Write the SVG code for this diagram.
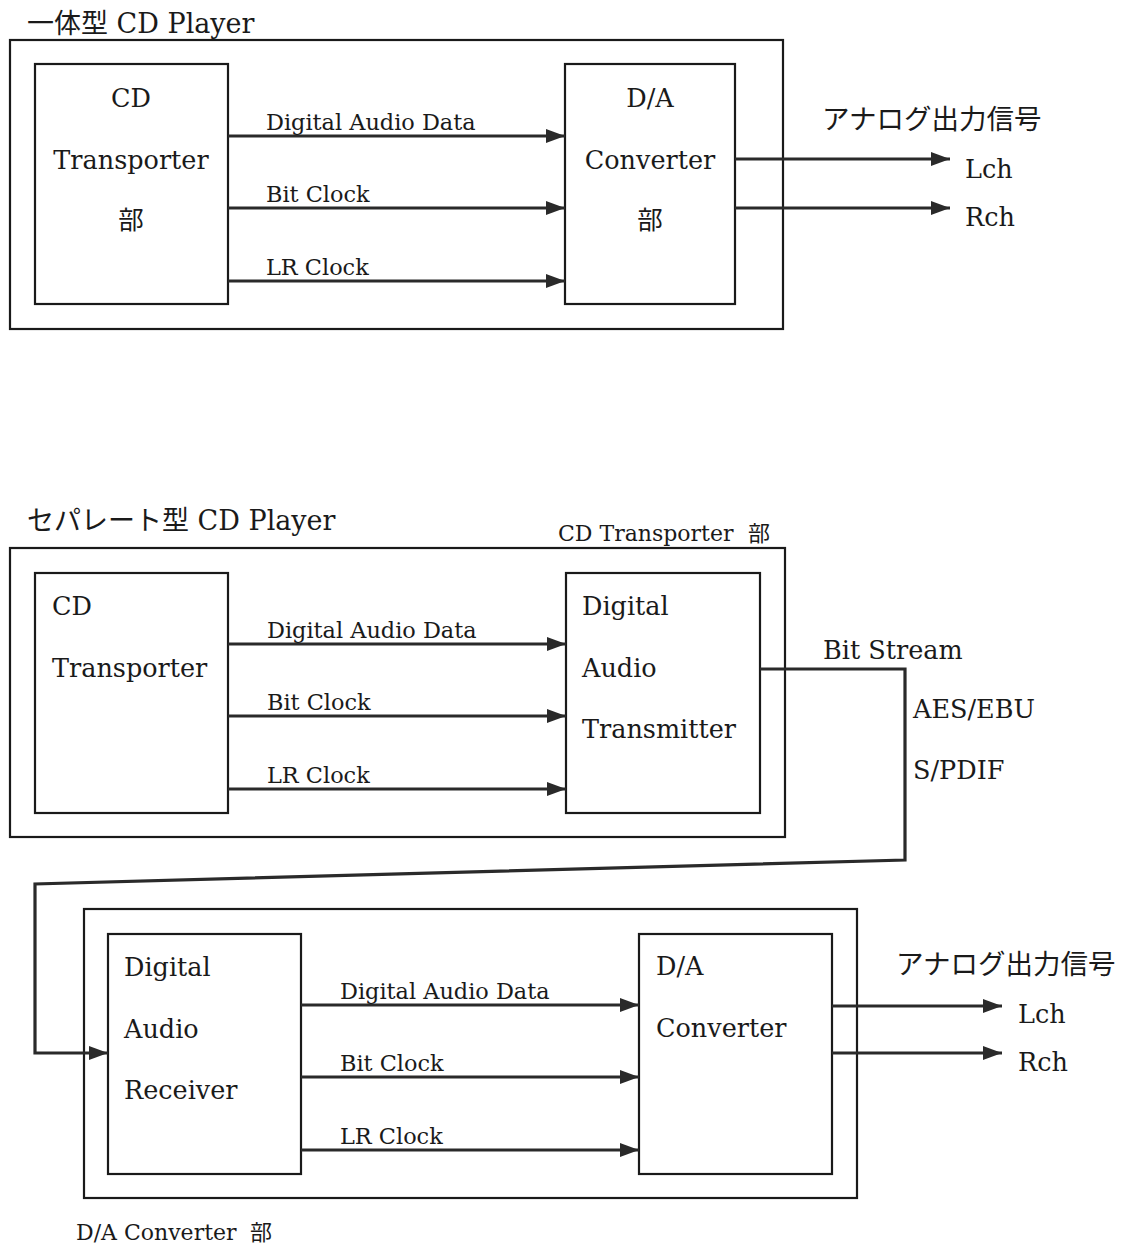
<svg xmlns="http://www.w3.org/2000/svg" width="1126" height="1243" viewBox="0 0 1126 1243">
<style>
text{font-family:"DejaVu Serif","Liberation Serif","Noto Sans CJK JP",serif;fill:#1a1a1a}
.t{font-size:27px}
.b{font-size:25.5px}
.j{font-size:27.5px}
.l{font-size:22.4px}
.s{font-size:22px}
.frame{fill:none;stroke:#1a1a1a;stroke-width:2.2}
.box{fill:#fff;stroke:#1a1a1a;stroke-width:2.2}
.c{fill:none;stroke:#2a2a2a;stroke-width:3.2}
.m{text-anchor:middle}
</style>
<defs>
<marker id="ah" markerUnits="userSpaceOnUse" markerWidth="20" markerHeight="14" refX="19" refY="7" orient="auto">
<path d="M0,0 L19,7 L0,14 Z" fill="#2a2a2a"/>
</marker>
</defs>
<rect width="1126" height="1243" fill="#fff"/>

<!-- Top: 一体型 -->
<g id="title-top"><text class="t" x="27" y="33">一体型 CD Player</text></g>
<g id="frame-top"><rect class="frame" x="10" y="40" width="773" height="289"/></g>
<g id="cd-transporter-top">
<rect class="box" x="35" y="64" width="193" height="240"/>
<text class="b m" x="131" y="107">CD</text>
<text class="b m" x="131" y="169">Transporter</text>
<text class="b m" x="131" y="229">部</text>
</g>
<g id="da-converter-top">
<rect class="box" x="565" y="64" width="170" height="240"/>
<text class="b m" x="650" y="107">D/A</text>
<text class="b m" x="650" y="169">Converter</text>
<text class="b m" x="650" y="229">部</text>
</g>
<g id="out-top">
<text class="j" x="822" y="129">アナログ出力信号</text>
<text class="b" x="965" y="178">Lch</text>
<text class="b" x="965" y="226">Rch</text>
</g>

<!-- Bottom: セパレート型 -->
<g id="title-bottom"><text class="t" x="27" y="530">セパレート型 CD Player</text></g>
<g id="frame-transport">
<rect class="frame" x="10" y="548" width="775" height="289"/>
<text class="s" x="558" y="541">CD Transporter</text>
<text class="s" x="748" y="541">部</text>
</g>
<g id="cd-transporter-bottom">
<rect class="box" x="35" y="573" width="193" height="240"/>
<text class="b" x="52" y="615">CD</text>
<text class="b" x="52" y="677">Transporter</text>
</g>
<g id="dat">
<rect class="box" x="566" y="573" width="194" height="240"/>
<text class="b" x="582" y="615">Digital</text>
<text class="b" x="582" y="677">Audio</text>
<text class="b" x="582" y="738">Transmitter</text>
</g>
<g id="stream-labels">
<text class="b" x="823" y="659">Bit Stream</text>
<text class="b" x="913" y="718">AES/EBU</text>
<text class="b" x="913" y="779">S/PDIF</text>
</g>
<g id="frame-da">
<rect class="frame" x="84" y="909" width="773" height="289"/>
<text class="s" x="76" y="1240">D/A Converter</text>
<text class="s" x="250" y="1240">部</text>
</g>
<g id="dar">
<rect class="box" x="108" y="934" width="193" height="240"/>
<text class="b" x="124" y="976">Digital</text>
<text class="b" x="124" y="1038">Audio</text>
<text class="b" x="124" y="1099">Receiver</text>
</g>
<g id="da-converter-bottom">
<rect class="box" x="639" y="934" width="193" height="240"/>
<text class="b" x="656" y="975">D/A</text>
<text class="b" x="656" y="1037">Converter</text>
</g>
<g id="out-bottom">
<text class="j" x="896" y="974">アナログ出力信号</text>
<text class="b" x="1018" y="1023">Lch</text>
<text class="b" x="1018" y="1071">Rch</text>
</g>

<g id="connectors">
<line class="c" x1="228" y1="136" x2="565" y2="136" marker-end="url(#ah)"/>
<line class="c" x1="228" y1="208" x2="565" y2="208" marker-end="url(#ah)"/>
<line class="c" x1="228" y1="281" x2="565" y2="281" marker-end="url(#ah)"/>
<line class="c" x1="735" y1="159" x2="950" y2="159" marker-end="url(#ah)"/>
<line class="c" x1="735" y1="208" x2="950" y2="208" marker-end="url(#ah)"/>
<line class="c" x1="228" y1="644" x2="566" y2="644" marker-end="url(#ah)"/>
<line class="c" x1="228" y1="716" x2="566" y2="716" marker-end="url(#ah)"/>
<line class="c" x1="228" y1="789" x2="566" y2="789" marker-end="url(#ah)"/>
<polyline class="c" points="760,669 905,669 905,860 35,884 35,1053 108,1053" marker-end="url(#ah)"/>
<line class="c" x1="301" y1="1005" x2="639" y2="1005" marker-end="url(#ah)"/>
<line class="c" x1="301" y1="1077" x2="639" y2="1077" marker-end="url(#ah)"/>
<line class="c" x1="301" y1="1150" x2="639" y2="1150" marker-end="url(#ah)"/>
<line class="c" x1="832" y1="1006" x2="1002" y2="1006" marker-end="url(#ah)"/>
<line class="c" x1="832" y1="1053" x2="1002" y2="1053" marker-end="url(#ah)"/>
</g>

<g id="arrow-labels">
<text class="l" x="266" y="130">Digital Audio Data</text>
<text class="l" x="266" y="202">Bit Clock</text>
<text class="l" x="266" y="275">LR Clock</text>
<text class="l" x="267" y="638">Digital Audio Data</text>
<text class="l" x="267" y="710">Bit Clock</text>
<text class="l" x="267" y="783">LR Clock</text>
<text class="l" x="340" y="999">Digital Audio Data</text>
<text class="l" x="340" y="1071">Bit Clock</text>
<text class="l" x="340" y="1144">LR Clock</text>
</g>
</svg>
